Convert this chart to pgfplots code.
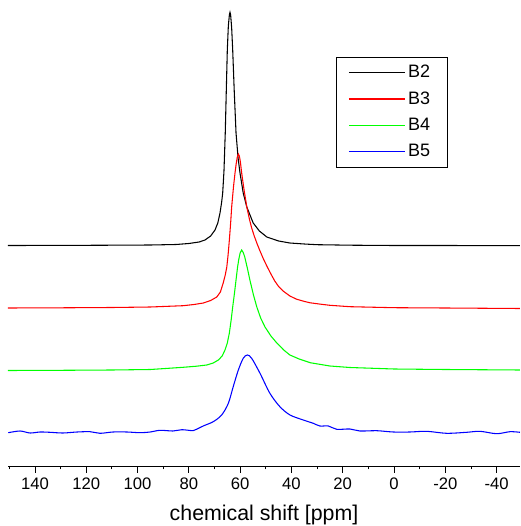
\documentclass[border=0pt]{standalone}
\usepackage{fontspec}
\setmainfont{Liberation Sans}
\usepackage{pgfplots}
\pgfplotsset{compat=1.18}
\begin{document}
\begin{tikzpicture}[x=1pt,y=1pt]
\useasboundingbox (-6,-45) rectangle (384.75,349.5);
\begin{axis}[
  at={(0pt,0pt)}, anchor=south west,
  scale only axis, width=384pt, height=349.5pt,
  xmin=-49.1, xmax=150.5, ymin=0, ymax=466,
  x dir=reverse,
  axis x line*=bottom, axis y line=none,
  xtick={140,120,100,80,60,40,20,0,-20,-40},
  xticklabels={140,120,100,80,60,40,20,0,-20,-40},
  minor xtick={150,130,110,90,70,50,30,10,-10,-30},
  tick align=outside,
  major tick length=5pt, minor tick length=2.5pt,
  tick style={black, line width=0.6pt},
  axis line style={black, line width=0.6pt},
  tick label style={font=\fontsize{12.5}{15}\selectfont},
  xlabel={chemical shift [ppm]},
  xlabel style={font=\fontsize{16}{19}\selectfont, yshift=-5pt},
  clip=false,
  legend style={at={(0.6406,0.8783)}, anchor=north west,
    inner xsep=9pt, inner ysep=4pt, row sep=5pt,
    font=\fontsize{13.5}{16}\selectfont,
    /tikz/every even column/.append style={column sep=5pt}},
]
\addplot[draw=black, line width=0.8pt, forget plot] coordinates {
(150.5,220.5) (130,220.6) (110,220.8) (95,221) (85,221.5) (80,222.5) (76,224)
(73.7,226) (71.5,230) (69.8,236) (68.7,243) (67.85,253) (67.2,264) (66.8,273)
(66.3,295) (65.8,333) (65.4,375) (65.0,416) (64.6,440) (64.2,451) (63.95,453.7)
(63.7,451) (63.3,438) (62.9,416) (62.3,375) (61.6,333) (60.8,308) (60.05,293)
(58.8,273) (57.4,259) (56.0,250) (54.9,243) (52.5,235) (49.6,229) (45,225)
(40.6,223) (35,222) (30,221.3) (17,220.8) (0,220.5) (-20,220.5) (-49.1,220.3)
};
\addplot[draw=red, line width=0.8pt, forget plot] coordinates {
(150.5,158) (130,158.2) (110,158.5) (95,159) (82.2,160.3) (78,161.5) (74.35,163)
(71.5,165.5) (69.1,169) (67.7,174) (66.6,183) (65.8,191) (65.2,199) (64.7,211)
(64.2,226) (63.7,243) (63.3,259) (62.6,279) (62.0,293) (61.5,303) (61.1,309)
(60.7,312) (60.3,310) (59.9,304) (59.4,293) (58.4,275) (57.4,259) (56.4,247)
(55.5,238) (54.5,230) (53.5,223) (52.25,215) (51,207.5) (49.6,200) (48,192)
(46.5,185) (45,179.5) (43,174.5) (40.6,170) (38,166.8) (35,164.6) (32.7,163.2)
(28,161.6) (25,160.7) (17.2,159.3) (0,158.3) (-20,158) (-49.1,157.5)
};
\addplot[draw=green, line width=0.8pt, forget plot] coordinates {
(150.5,95.5) (130,95.7) (110,96) (95,96.5) (82.2,98.7) (77,99.8) (73,101)
(70.5,103) (68.5,106) (67,110) (65.9,116) (65,123) (64.2,133) (63.5,146)
(62.9,159) (62.2,173) (61.6,186) (61,199) (60.5,207) (60.0,213) (59.4,216)
(58.8,213.5) (58.2,209) (57.2,198) (56.2,186) (54.8,171) (53.5,159) (52,148)
(50.3,139) (48,130) (45.7,123) (43,116) (40.6,111) (37,107) (32.7,103.3)
(25,100) (17.2,98.5) (0,97) (-20,96.5) (-49.1,96)
};
\addplot[draw=blue, line width=0.8pt, smooth, tension=0.5, forget plot] coordinates {
(150.4,33.3) (145.8,35) (141.9,33) (138.0,34) (134.1,33.7) (129.1,33) (123.6,34)
(118.5,34.3) (114.6,32.7) (109.6,34) (104.1,34) (99.0,33.3) (95.1,34) (91.2,35.7)
(86.2,35) (82.7,36.3) (78.4,35.3) (77.0,36.7) (74.4,40) (70.5,44.3) (67.2,51)
(64.6,62.7) (62.7,79.3) (60.7,96) (58.8,107.7) (57.2,111) (55.5,107.7)
(52.25,92.7) (48.4,72.7) (44.5,59.3) (40.55,51) (35.4,46) (31.5,42.7) (28.9,40)
(25.6,40) (22.35,36.7) (17.2,37) (13.3,35) (6.75,35.3) (0.29,34) (-6.2,34)
(-12.7,34.7) (-20.5,32.7) (-28.3,33.7) (-33.5,34.7) (-40.0,32.3) (-45.2,34.3)
(-49.1,33.7)
};
\addlegendimage{legend image code/.code={\draw[draw=black,line width=1pt] (0pt,0pt) -- (42pt,0pt);}}
\addlegendentry{B2\hspace*{2pt}}
\addlegendimage{legend image code/.code={\draw[draw=red,line width=1pt] (0pt,0pt) -- (42pt,0pt);}}
\addlegendentry{B3\hspace*{2pt}}
\addlegendimage{legend image code/.code={\draw[draw=green,line width=1pt] (0pt,0pt) -- (42pt,0pt);}}
\addlegendentry{B4\hspace*{2pt}}
\addlegendimage{legend image code/.code={\draw[draw=blue,line width=1pt] (0pt,0pt) -- (42pt,0pt);}}
\addlegendentry{B5\hspace*{2pt}}
\end{axis}
\end{tikzpicture}
\end{document}
